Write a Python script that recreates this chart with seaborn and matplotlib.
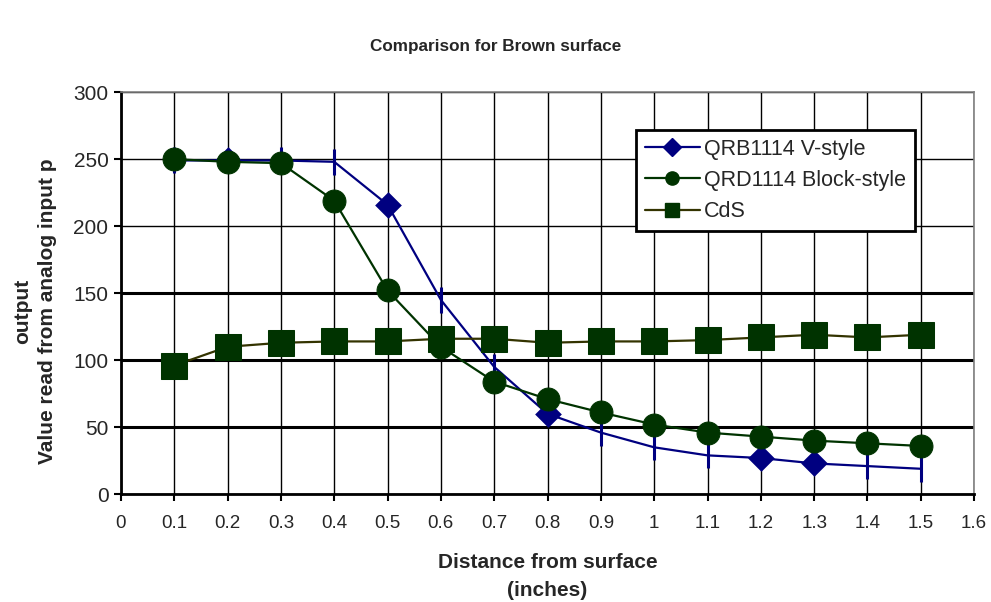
import matplotlib
matplotlib.use("Agg")
import matplotlib.pyplot as plt
import seaborn as sns
import numpy as np
import pandas as pd
from matplotlib.lines import Line2D

distance = [0.1, 0.2, 0.3, 0.4, 0.5, 0.6, 0.7, 0.8, 0.9, 1.0, 1.1, 1.2, 1.3, 1.4, 1.5]
qrb1114 = [249, 249, 249, 248, 216, 145, 95, 60, 46, 35, 29, 27, 23, 21, 19]
qrd1114 = [250, 248, 247, 219, 152, 110, 84, 71, 61, 52, 46, 43, 40, 38, 36]
cds = [96, 110, 113, 114, 114, 116, 116, 113, 114, 114, 115, 117, 119, 117, 119]
series_names = ["QRB1114 V-style", "QRD1114 Block-style", "CdS"]
qrb_diamond_x = [0.2, 0.5, 0.8, 1.2, 1.3]

title = "Comparison for Brown surface"
xlabel = "Distance from surface\n(inches)"
ylabel = "output\nValue read from analog input p"
xticks = [0, 0.1, 0.2, 0.3, 0.4, 0.5, 0.6, 0.7, 0.8, 0.9, 1.0, 1.1, 1.2, 1.3, 1.4, 1.5, 1.6]
xtick_labels = ["0", "0.1", "0.2", "0.3", "0.4", "0.5", "0.6", "0.7", "0.8", "0.9", "1",
                "1.1", "1.2", "1.3", "1.4", "1.5", "1.6"]
yticks = [0, 50, 100, 150, 200, 250, 300]

sns.set_theme(style="white")
plt.rcParams["font.family"] = ["Liberation Sans", "DejaVu Sans"]

BLUE = "#000080"
GREEN = "#003300"
OLIVE = "#333300"

fig = plt.figure(figsize=(9.91, 6.02), dpi=100)
ax = fig.add_axes([0.122, 0.179, 0.861, 0.668])

df = pd.DataFrame({"x": distance, "qrb": qrb1114, "qrd": qrd1114, "cds": cds})
dia = df[df["x"].round(2).isin([round(v, 2) for v in qrb_diamond_x])]
ticks_df = df[~df.index.isin(dia.index)]

# QRB1114 line with tick markers and diamonds
sns.lineplot(data=df, x="x", y="qrb", ax=ax, color=BLUE, lw=1.6, zorder=3)
sns.scatterplot(data=ticks_df, x="x", y="qrb", ax=ax, marker="|", s=330,
                color=BLUE, linewidth=2.2, zorder=3)
sns.scatterplot(data=dia, x="x", y="qrb", ax=ax, marker="D", s=185,
                color=BLUE, edgecolor=BLUE, linewidth=0, zorder=3)
# QRD1114
sns.lineplot(data=df, x="x", y="qrd", ax=ax, color=GREEN, lw=1.6, zorder=4,
             marker="o", markersize=16.5, markerfacecolor=GREEN, markeredgecolor=GREEN)
# CdS
sns.lineplot(data=df, x="x", y="cds", ax=ax, color=OLIVE, lw=1.6, zorder=5,
             marker="s", markersize=18.5, markerfacecolor=GREEN, markeredgecolor=GREEN)

ax.set_xlim(0, 1.6)
ax.set_ylim(0, 300)
ax.set_xticks(xticks)
ax.set_xticklabels(xtick_labels, fontsize=13.5)
ax.set_yticks(yticks)
ax.set_yticklabels([str(v) for v in yticks], fontsize=15)

ax.grid(True, color="black", lw=1.0)
for val, gl in zip(yticks, ax.get_ygridlines()):
    if val in (50, 100, 150):
        gl.set_linewidth(2.2)
ax.set_axisbelow(True)

for side in ("top", "right"):
    ax.spines[side].set_color("#808080")
    ax.spines[side].set_linewidth(1.2)
for side in ("left", "bottom"):
    ax.spines[side].set_color("black")
    ax.spines[side].set_linewidth(2.0)
ax.tick_params(axis="both", direction="out", length=5, width=1.5, color="black",
               bottom=True, left=True)
ax.tick_params(axis="x", pad=10)
ax.tick_params(axis="y", pad=4)

ax.set_xlabel(xlabel, fontsize=15, fontweight="bold", linespacing=1.6, labelpad=15)
ax.set_ylabel(ylabel, fontsize=15, fontweight="bold", linespacing=1.4)
ax.yaxis.set_label_coords(-0.075, 0.455)
fig.text(0.5, 0.922, title, ha="center", va="center", fontsize=12.3, fontweight="bold")

handles = [
    Line2D([], [], color=BLUE, lw=1.6, marker="D", markersize=9, markerfacecolor=BLUE, markeredgecolor=BLUE),
    Line2D([], [], color=GREEN, lw=1.6, marker="o", markersize=9.5, markerfacecolor=GREEN, markeredgecolor=GREEN),
    Line2D([], [], color=OLIVE, lw=1.6, marker="s", markersize=9.5, markerfacecolor=GREEN, markeredgecolor=GREEN),
]
leg = ax.legend(handles, series_names, loc="upper left", bbox_to_anchor=(0.604, 0.906),
                fontsize=15.5, frameon=True, fancybox=False, framealpha=1,
                edgecolor="black", handlelength=2.55, handletextpad=0.2,
                borderpad=0.4, labelspacing=0.48, borderaxespad=0)
leg.get_frame().set_linewidth(2.0)
leg.set_zorder(10)

fig.savefig("out.png", dpi=100, facecolor="white")
